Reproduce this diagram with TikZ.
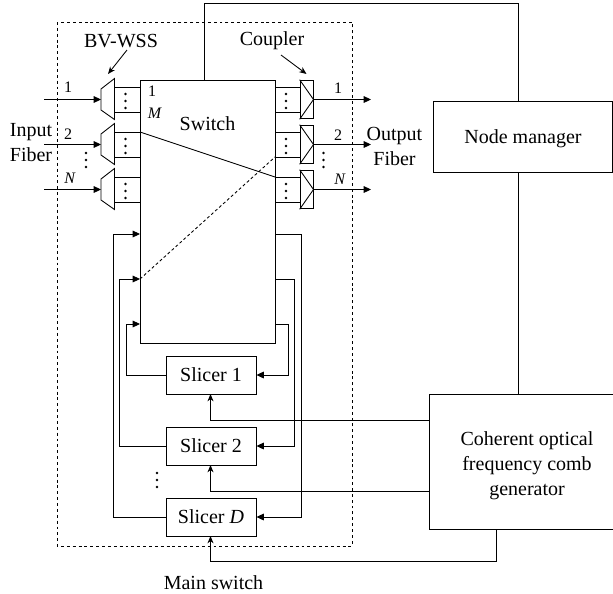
\documentclass[tikz,border=0pt]{standalone}
\usepackage{fontspec}
\setmainfont{Liberation Serif}
\usetikzlibrary{arrows.meta, positioning}

\begin{document}
\begin{tikzpicture}[
  x=0.75pt, y=-0.75pt,
  font=\fontsize{15}{18.7}\selectfont,
  every path/.style={line width=0.65pt},
  blockbox/.style={rectangle, draw=black, fill=white, minimum width=67.5pt, minimum height=28.5pt, inner sep=0pt, align=center},
  bigbox/.style={rectangle, draw=black, fill=white, inner sep=0pt, align=center},
  couplerbox/.style={rectangle, draw=black, minimum width=10pt, minimum height=29pt, inner sep=0pt},
  lbl/.style={inner sep=0pt, font=\fontsize{12}{13}\selectfont},
  txt/.style={inner sep=0pt, align=center},
  arr/.style={-{Triangle[length=5.5pt,width=5pt]}},
  uparr/.style={-{Stealth[length=5.5pt,width=4.5pt]}},
]
  \useasboundingbox (0,0) rectangle (613,593);

  % outer frame
  \draw[dashed, line width=0.5pt, dash pattern=on 2.2pt off 2.2pt] (57,22) rectangle (352,546);

  % blocks
  \node[bigbox, minimum width=101.25pt, minimum height=197.25pt] (switch) at (207.5,211.5) {};
  \node[txt] (switchlbl) at (207.5,124) {Switch};
  \node[blockbox] (s1) at (211,375) {Slicer 1};
  \node[blockbox] (s2) at (211,446) {Slicer 2};
  \node[blockbox] (sd) at (211,517) {Slicer \textit{D}};
  \node[bigbox, text depth=0pt, minimum width=134.8pt, minimum height=52.7pt] (nm) at (523,137) {Node manager};
  \node[bigbox, minimum width=138pt, minimum height=101.25pt] (gen) at (521,461.5) {};
  \node[txt] (genlbl) at (527,466) {Coherent optical\\frequency comb\\generator};

  % BV-WSS and couplers
  \foreach \i/\yy in {1/99.5, 2/144.5, 3/189.5} {
    \coordinate (wa\i) at (101,\yy);
    \coordinate (wb\i) at (114.5,\yy);
    \draw (101,\yy-10.5) -- (114.5,\yy-21) -- (114.5,\yy+20) -- (101,\yy+10.5) -- cycle;
    \draw (114.5,\yy-12.5) -- (140,\yy-12.5);
    \draw (114.5,\yy+13) -- (140,\yy+13);
    \node[couplerbox] (c\i) at (306.75,\yy) {};
    \coordinate (co\i) at (313.5,\yy);
    \draw (c\i.north west) -- (co\i) -- (c\i.south west);
    \draw (275,\yy-12.5) -- (300,\yy-12.5);
    \draw (275,\yy+13) -- (300,\yy+13);
    \foreach \xx in {125.5, 286} {
      \foreach \dy in {-5.5, 1.5, 8.5}
        \fill (\xx,\yy+\dy) circle (1.1pt);
    }
  }

  % inputs and outputs
  \coordinate (in1) at (44,99.5);
  \coordinate (in2) at (44,144.5);
  \coordinate (in3) at (44,189.5);
  \coordinate (out1) at (371,99.5);
  \coordinate (out2) at (371,144.5);
  \coordinate (out3) at (371,189.5);
  \foreach \i in {1,2,3} {
    \draw[arr] (in\i) -- (wa\i);
    \draw[arr] (co\i) -- (out\i);
  }
  \foreach \yy in {153, 160, 167} {
    \fill (86,\yy) circle (1.1pt);
    \fill (323.5,\yy) circle (1.1pt);
  }
  \foreach \yy in {473, 480, 487}
    \fill (157,\yy) circle (1.1pt);

  % labels
  \node[lbl] (i1) at (68,87) {1};
  \node[lbl] (i2) at (68,134) {2};
  \node[lbl] (in) at (70,178) {\textit{N}};
  \node[lbl] (o1) at (338,88) {1};
  \node[lbl] (o2) at (338,135) {2};
  \node[lbl] (on) at (340,179) {\textit{N}};
  \node[lbl] (p1) at (152,91) {1};
  \node[lbl] (pm) at (155,113) {\textit{M}};
  \node[txt] (inlbl) at (31,143) {Input\\Fiber};
  \node[txt] (outlbl) at (394.5,146.5) {Output\\Fiber};
  \node[txt] (wsslbl) at (121,41) {BV-WSS};
  \node[txt] (cplbl) at (272,41) {Coupler};
  \node[txt] (mainlbl) at (213.5,583) {Main switch};

  \coordinate (wsstip) at (108,74);
  \coordinate (cptip) at (306.5,74);
  \draw[uparr] (127,50) -- (wsstip);
  \draw[uparr] (281,55) -- (cptip);

  % crossing paths in the switch
  \draw (140,132) -- (275,177);
  \draw[dashed, dash pattern=on 2.2pt off 1.8pt] (140,279) -- (275,157);

  % loops through the slicers
  \draw[arr] (275,234) -- (301,234) -- (301,517) -- (sd.east);
  \draw[arr] (275,279) -- (294,279) -- (294,446) -- (s2.east);
  \draw[arr] (275,324) -- (288,324) -- (288,375) -- (s1.east);
  \draw[arr] (sd.west) -- (113,517) -- (113,234) -- (140,234);
  \draw[arr] (s2.west) -- (119.5,446) -- (119.5,279) -- (140,279);
  \draw[arr] (s1.west) -- (126,375) -- (126,324) -- (140,324);

  % comb generator to slicers
  \draw[uparr] (gen.west |- 0,420) -- (210.5,420) -- (210.5,394);
  \draw[uparr] (gen.west |- 0,491) -- (210.5,491) -- (210.5,465);
  \draw[uparr] (496,529) -- (496,561) -- (210.5,561) -- (210.5,536);

  % node manager
  \draw (204,80) -- (204,3.5) -- (518,3.5) -- (518,101.5);
  \draw (518,172.5) -- (518,394);
\end{tikzpicture}
\end{document}
